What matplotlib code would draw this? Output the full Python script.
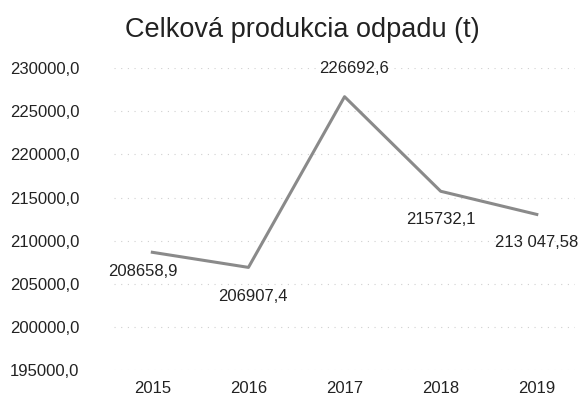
import matplotlib.pyplot as plt

years = ["2015", "2016", "2017", "2018", "2019"]
values = [208658.9, 206907.4, 226692.6, 215732.1, 213047.58]
value_labels = ["208658,9", "206907,4", "226692,6", "215732,1", "213 047,58"]
y_ticks = [195000, 200000, 205000, 210000, 215000, 220000, 225000, 230000]

plt.rcParams['font.family'] = ['Liberation Sans', 'DejaVu Sans']

fig = plt.figure(figsize=(5.84, 4.01), dpi=100)
ax = fig.add_axes([0.195, 0.077, 0.79, 0.753])

x = list(range(len(years)))
ax.plot(x, values, color='#8a8a8a', linewidth=2.2)

# label offsets in points (dx, dy), roughly as in the scan
offsets = [(-7, -14), (3, -21), (7, 20), (0, -20), (0, -20)]
for xi, v, lab, off in zip(x, values, value_labels, offsets):
    ax.annotate(lab, (xi, v), xytext=off, textcoords='offset points',
                ha='center', va='center', fontsize=12, color='#222222')

ax.set_xlim(-0.4, 4.4)
ax.set_ylim(195000, 230000)
ax.set_xticks(x)
ax.set_xticklabels(years)
ax.set_yticks(y_ticks)
ax.set_yticklabels([f"{t},0" for t in y_ticks])
ax.tick_params(length=0, labelsize=12, colors='#222222')
ax.tick_params(axis='y', pad=25)
ax.tick_params(axis='x', pad=8)

ax.grid(axis='y', color='#d0d0d0', linestyle=(0, (1, 5)), linewidth=0.8)
for s in ax.spines.values():
    s.set_visible(False)

fig.text(0.517, 0.925, "Celková produkcia odpadu (t)", ha='center', va='center',
         fontsize=19.5, color='#222222')

fig.savefig("out.png", dpi=100)
